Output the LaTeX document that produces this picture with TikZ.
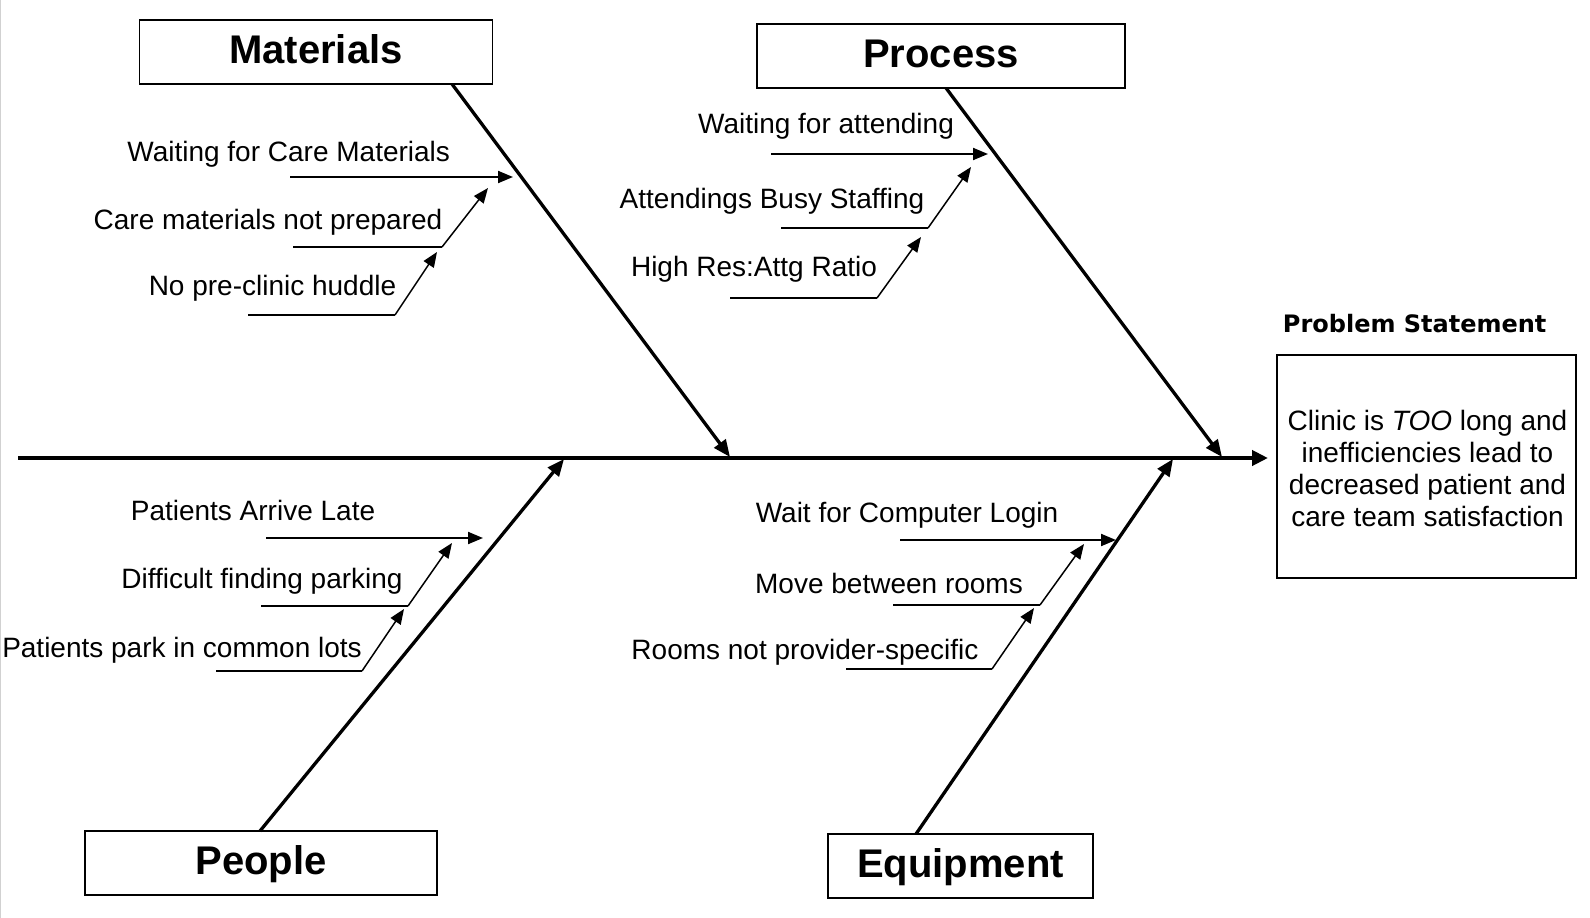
\documentclass[tikz,border=0pt]{standalone}
\usepackage{fontspec}
\setmainfont{Liberation Sans}
\newfontfamily\headfont{DejaVu Sans}
\usetikzlibrary{arrows.meta}
\begin{document}
\begin{tikzpicture}[x=1pt,y=-1pt,
  catbox/.style={draw,line width=1.8pt,minimum width=#1,minimum height=64pt,
    inner sep=0pt,text height=28pt,text depth=6pt,
    font=\fontsize{40}{46}\selectfont\bfseries},
  causetext/.style={anchor=base,inner sep=0pt,font=\fontsize{28}{32}\selectfont},
  bone/.style={line width=3.3pt,-{Triangle[length=17pt,width=14pt]}},
  spine/.style={line width=4pt,-{Triangle[length=16pt,width=15pt]}},
  twig/.style={line width=2pt},
  twigtip/.style={line width=2pt,-{Triangle[length=15pt,width=12pt]}},
  slant/.style={line width=1.5pt,-{Triangle[length=15pt,width=12pt]}}
]
\fill[white] (0,0) rectangle (1590,918);
\useasboundingbox (0,0) rectangle (1590,918);
\draw[black!18,line width=1.2pt] (0.6,0) -- (0.6,918);

% main spine
\coordinate (tail) at (18,458);
\coordinate (head) at (1268,458);
\draw[spine] (tail) -- (head);

% category boxes
\node[catbox=353pt] (materials) at (316,52) {Materials};
\node[catbox=368pt] (process)   at (941,56) {Process};
\node[catbox=352pt] (people)    at (261,863) {People};
\node[catbox=265pt] (equipment) at (960.5,866) {Equipment};

% bones from boxes to the spine
\coordinate (matS) at (452,84);   \coordinate (matT) at (730,457);
\coordinate (proS) at (946,88);   \coordinate (proT) at (1222,457);
\coordinate (peoS) at (260,831);  \coordinate (peoT) at (564,459);
\coordinate (equS) at (916,834);  \coordinate (equT) at (1173,459);
\draw[bone] (matS) -- (matT);
\draw[bone] (proS) -- (proT);
\draw[bone] (peoS) -- (peoT);
\draw[bone] (equS) -- (equT);

% problem statement
\node[anchor=base,inner sep=0pt,font=\headfont\fontsize{24}{28}\selectfont\bfseries]
  (pslabel) at (1414.7,332) {Problem Statement};
\draw[line width=1.8pt] (1277,355) rectangle (1576,578);
\node[anchor=base,inner sep=0pt,align=center,font=\fontsize{28}{32.2}\selectfont]
  (ptext) at (1427.5,526.7)
  {Clinic is \textit{TOO} long and\\inefficiencies lead to\\decreased patient and\\care team satisfaction};

% Materials causes
\node[causetext] (m1) at (288.7,161.7) {Waiting for Care Materials};
\node[causetext] (m2) at (268,229) {Care materials not prepared};
\node[causetext] (m3) at (272.5,295) {No pre-clinic huddle};
\coordinate (m1s) at (290,177); \coordinate (m1t) at (513,177);
\coordinate (m2s) at (293,247); \coordinate (m2b) at (442,247); \coordinate (m2t) at (488,188);
\coordinate (m3s) at (248,315); \coordinate (m3b) at (395,315); \coordinate (m3t) at (437,252);
\draw[twigtip] (m1s) -- (m1t);
\draw[twig] (m2s) -- (m2b); \draw[slant] (m2b) -- (m2t);
\draw[twig] (m3s) -- (m3b); \draw[slant] (m3b) -- (m3t);

% Process causes
\node[causetext] (p1) at (826,133) {Waiting for attending};
\node[causetext] (p2) at (772,208) {Attendings Busy Staffing};
\node[causetext] (p3) at (754,276) {High Res:Attg Ratio};
\coordinate (p1s) at (771,154); \coordinate (p1t) at (988,154);
\coordinate (p2s) at (781,228); \coordinate (p2b) at (928,228); \coordinate (p2t) at (971,167);
\coordinate (p3s) at (730,298); \coordinate (p3b) at (877,298); \coordinate (p3t) at (921,237);
\draw[twigtip] (p1s) -- (p1t);
\draw[twig] (p2s) -- (p2b); \draw[slant] (p2b) -- (p2t);
\draw[twig] (p3s) -- (p3b); \draw[slant] (p3b) -- (p3t);

% People causes
\node[causetext] (pe1) at (253,520) {Patients Arrive Late};
\node[causetext] (pe2) at (262,588) {Difficult finding parking};
\node[causetext] (pe3) at (182,657) {Patients park in common lots};
\coordinate (pe1s) at (266,538); \coordinate (pe1t) at (483,538);
\coordinate (pe2s) at (261,606); \coordinate (pe2b) at (408,606); \coordinate (pe2t) at (452,543);
\coordinate (pe3s) at (216,671); \coordinate (pe3b) at (362,671); \coordinate (pe3t) at (404,609);
\draw[twigtip] (pe1s) -- (pe1t);
\draw[twig] (pe2s) -- (pe2b); \draw[slant] (pe2b) -- (pe2t);
\draw[twig] (pe3s) -- (pe3b); \draw[slant] (pe3b) -- (pe3t);

% Equipment causes
\node[causetext] (e1) at (907,522) {Wait for Computer Login};
\node[causetext] (e2) at (889,593) {Move between rooms};
\node[causetext] (e3) at (805,659) {Rooms not provider-specific};
\coordinate (e1s) at (900,540); \coordinate (e1t) at (1116,540);
\coordinate (e2s) at (893,605); \coordinate (e2b) at (1040,605); \coordinate (e2t) at (1084,544);
\coordinate (e3s) at (846,669); \coordinate (e3b) at (992,669); \coordinate (e3t) at (1034,608);
\draw[twigtip] (e1s) -- (e1t);
\draw[twig] (e2s) -- (e2b); \draw[slant] (e2b) -- (e2t);
\draw[twig] (e3s) -- (e3b); \draw[slant] (e3b) -- (e3t);
\end{tikzpicture}
\end{document}
